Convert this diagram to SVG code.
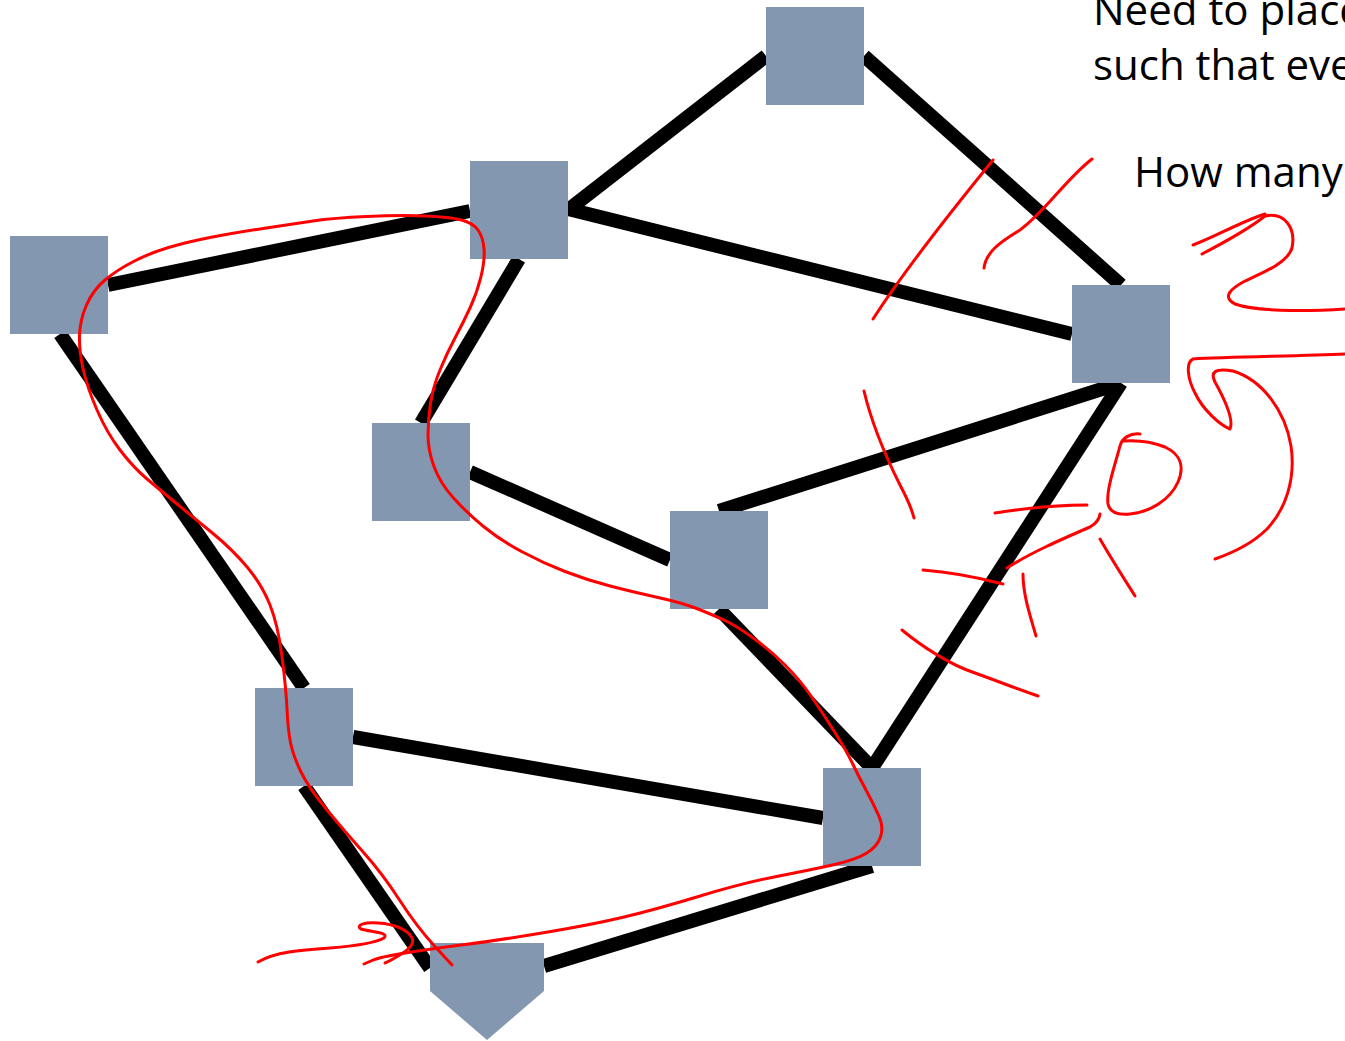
<svg xmlns="http://www.w3.org/2000/svg" width="1345" height="1041" viewBox="0 0 1345 1041">
  <style>
    .edge { stroke: #000000; stroke-width: 14; stroke-linecap: butt; fill: none; }
    .node { fill: #8497B0; }
    .ink { stroke: #FF0000; stroke-width: 3; fill: none; stroke-linecap: round; stroke-linejoin: round; }
    .label { font-family: "Open Sans", "Liberation Sans", sans-serif; font-size: 42px; fill: #000000; }
  </style>
  <rect width="1345" height="1041" fill="#FFFFFF"/>

  <!-- graph edges -->
  <g id="connectors">
    <line class="edge" x1="766" y1="56" x2="568" y2="210"/>
    <line class="edge" x1="864" y1="56" x2="1121" y2="285"/>
    <line class="edge" x1="108" y1="285" x2="470" y2="211"/>
    <line class="edge" x1="568" y1="209" x2="1072" y2="334"/>
    <line class="edge" x1="519" y1="259" x2="421" y2="423"/>
    <line class="edge" x1="60" y1="334" x2="304" y2="688"/>
    <line class="edge" x1="470" y1="472" x2="670" y2="560"/>
    <line class="edge" x1="1121" y1="383" x2="719" y2="511"/>
    <line class="edge" x1="1121" y1="383" x2="872" y2="768"/>
    <line class="edge" x1="719" y1="609" x2="872" y2="768"/>
    <line class="edge" x1="353" y1="737" x2="823" y2="818"/>
    <line class="edge" x1="304" y1="786" x2="430" y2="968"/>
    <line class="edge" x1="872" y1="866" x2="544" y2="966"/>
  </g>

  <!-- graph vertices -->
  <g id="node-top"><rect class="node" x="766" y="7" width="98" height="98"/></g>
  <g id="node-upper-mid"><rect class="node" x="470" y="161" width="98" height="98"/></g>
  <g id="node-left"><rect class="node" x="10" y="236" width="98" height="98"/></g>
  <g id="node-right"><rect class="node" x="1072" y="285" width="98" height="98"/></g>
  <g id="node-center-left"><rect class="node" x="372" y="423" width="98" height="98"/></g>
  <g id="node-center"><rect class="node" x="670" y="511" width="98" height="98"/></g>
  <g id="node-lower-left"><rect class="node" x="255" y="688" width="98" height="98"/></g>
  <g id="node-lower-right"><rect class="node" x="823" y="768" width="98" height="98"/></g>
  <g id="node-bottom"><polygon class="node" points="430,943 544,943 544,991 487,1040 430,991"/></g>

  <!-- handwritten red ink -->
  <g id="ink">
    <!-- start arrow -->
    <path class="ink" d="M258,962 C275,952 300,950 330,948 C355,946 375,943 384,938 C390,932 370,932 361,929 C355,925 365,922 378,923 C395,924 408,930 412,938 C416,946 403,953 398,956 C393,959 388,962 385,963"/>
    <!-- tour around the graph -->
    <path class="ink" d="M364,964 L372,960.5 Q380,957 405,953 Q430,949 465,944.5 Q500,940 545,932.5 Q590,925 622,917.5 Q654,910 698.5,896.5 Q743,883 776.5,876.5 Q810,870 832.5,865 Q855,860 866,853.5 Q877,847 880.5,837 Q884,827 878.5,815 Q873,803 866,790 Q859,777 852.5,763.5 Q846,750 834,731 Q822,712 811,696 Q800,680 785,665 Q770,650 752.5,637.5 Q735,625 724,620 Q713,615 698,609 Q683,603 658,597.5 Q633,592 610,586 Q587,580 565,571.5 Q543,563 521.5,551.5 Q500,540 483.5,526.5 Q467,513 453.5,498 Q440,483 434,466.5 Q428,450 428,435 Q428,420 430.5,403.5 Q433,387 440,370 Q447,353 455,338 Q463,323 470,308 Q477,293 481,276.5 Q485,260 484,248.5 Q483,237 478,230 Q473,223 461.5,220 Q450,217 425,216 Q400,215 366.5,216.5 Q333,218 313,221 Q293,224 263,228.5 Q233,233 210,237.5 Q187,242 168.5,247.5 Q150,253 133.5,261.5 Q117,270 105,280 Q93,290 86.5,305 Q80,320 79.5,335 Q79,350 83,368.5 Q87,387 97,410 Q107,433 120,450 Q133,467 146.5,478.5 Q160,490 176.5,503.5 Q193,517 213,533.5 Q233,550 247.5,567.5 Q262,585 270,605 Q278,625 282,656.5 Q286,688 287,709 Q288,730 290.5,742.5 Q293,755 300.5,771 Q308,787 327,810 Q346,833 364,853 Q382,873 399.5,900 Q417,927 434.5,946 L452,965"/>
    <!-- tally strokes across edges -->
    <path class="ink" d="M873,319 C895,285 940,225 993,160"/>
    <path class="ink" d="M984,268 C986,252 1000,242 1020,230 C1045,212 1065,180 1092,159"/>
    <path class="ink" d="M864,391 C872,425 890,465 900,485 C908,500 912,510 914,518"/>
    <path class="ink" d="M995,513 C1020,509 1050,505 1087,505"/>
    <path class="ink" d="M1007,568 C1030,553 1060,540 1090,527 Q1099,522 1100,514"/>
    <path class="ink" d="M923,570 C950,572 980,578 1003,584"/>
    <path class="ink" d="M1023,574 C1023,595 1030,615 1036,636"/>
    <path class="ink" d="M1100,539 C1112,560 1125,580 1135,596"/>
    <path class="ink" d="M902,630 C920,645 950,665 975,673 C1000,682 1020,690 1038,696"/>
    <!-- loop letter -->
    <path class="ink" d="M1140,434 C1130,433 1122,438 1120,446 C1115,465 1106,490 1108,504 C1110,514 1120,515 1130,514 C1150,512 1170,500 1178,482 C1185,466 1180,454 1165,447 C1150,441 1135,440 1123,441"/>
    <!-- numeral strokes at right -->
    <path class="ink" d="M1193,245 C1215,237 1240,222 1265,214"/>
    <path class="ink" d="M1202,254 C1225,242 1250,228 1265,216 C1285,212 1296,228 1292,248 C1288,262 1265,272 1245,281 C1230,289 1222,297 1235,304 C1255,311 1300,312 1345,309"/>
    <path class="ink" d="M1345,354 C1300,356 1230,357 1193,359 C1186,362 1187,378 1195,393 C1203,410 1220,425 1230,429 C1234,420 1225,400 1215,382 C1210,372 1215,368 1233,371 C1262,380 1285,410 1291,446 C1296,480 1285,510 1267,529 C1255,541 1235,552 1215,559"/>
  </g>

  <!-- text -->
  <g id="caption">
    <text class="label" x="1093" y="25">Need to place</text>
    <text class="label" x="1093" y="80">such that eve</text>
    <text class="label" x="1134" y="187">How many</text>
  </g>
</svg>
